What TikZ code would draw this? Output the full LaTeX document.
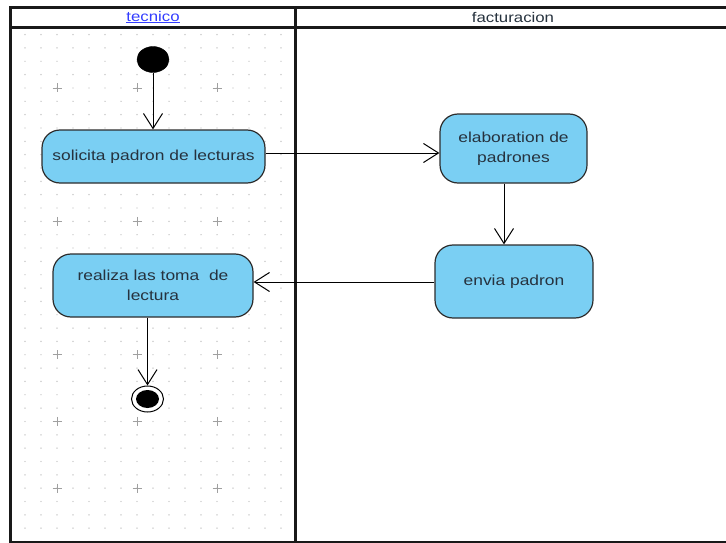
\documentclass[tikz,border=0pt]{standalone}
\usepackage{fontspec}
\usetikzlibrary{arrows.meta,shapes.geometric}
\newfontfamily\uifont[FakeStretch=1.2]{Liberation Sans}
\definecolor{actfill}{RGB}{122,207,243}
\definecolor{actline}{RGB}{45,45,45}
\definecolor{acttext}{RGB}{38,50,62}
\definecolor{linkblue}{RGB}{50,60,255}
\definecolor{framecol}{RGB}{25,25,25}
\definecolor{dotcol}{RGB}{185,185,185}
\definecolor{crosscol}{RGB}{160,160,160}
\tikzset{
  action/.style={draw=actline, fill=actfill, line width=1.2pt,
    rounded corners=18pt, align=center, text=acttext,
    font=\uifont\fontsize{14.5}{20}\selectfont, inner sep=0pt},
  flow/.style={draw=black, line width=1pt,
    -{Straight Barb[length=15pt,width=19pt,line width=1pt]}},
  lane/.style={draw=framecol, line width=2.6pt},
  head/.style={font=\uifont\fontsize{14}{16}\selectfont, inner sep=0pt}
}
\begin{document}
\begin{tikzpicture}[x=1pt,y=-1pt]
\useasboundingbox (0,0) rectangle (726,543);
\fill[white] (0,0) rectangle (726,543);

% dotted grid of the left swimlane
\foreach \i in {0,...,16}{
  \foreach \j in {0,...,38}{
    \fill[dotcol] (25+16*\i, 34.6+13.34*\j) circle (0.7pt);
  }
}
% grid crosses every fifth dot
\foreach \i in {57,137,217}{
  \foreach \j in {4,9,...,34}{
    \draw[crosscol, line width=0.7pt]
      (\i-4.5, 34.6+13.34*\j) -- (\i+4.5, 34.6+13.34*\j)
      (\i, 34.6+13.34*\j-4.5) -- (\i, 34.6+13.34*\j+4.5);
  }
}

% swimlane frame
\draw[lane] (740,7.5) -- (10.5,7.5) -- (10.5,542.2) -- (740,542.2);
\draw[lane] (10.5,27.5) -- (740,27.5);
\draw[lane] (295.5,7.5) -- (295.5,542.2);

% lane titles
\node[head, text=linkblue] (tecnico) at (153,17) {\underline{tecnico}};
\node[head, text=acttext] (facturacion) at (513,17) {facturacion};

% initial and final nodes
\node[draw=black, fill=black, ellipse, minimum width=32pt, minimum height=26pt,
  inner sep=0pt] (start) at (153,59.5) {};
\node[draw=black, line width=1pt, fill=white, ellipse, minimum width=32pt,
  minimum height=26pt, inner sep=0pt] (stop) at (147.5,399) {};
\fill[black] (stop.center) ellipse (11.5pt and 9pt);

% actions
\node[action, minimum width=223pt, minimum height=53pt] (solicita)
  at (153.5,156.5) {solicita padron de lecturas};
\node[action, minimum width=147pt, minimum height=69pt] (elab)
  at (513.5,148.5) {elaboration de\\padrones};
\node[action, minimum width=158pt, minimum height=73pt] (envia)
  at (514,281.5) {envia padron};
\node[action, minimum width=200pt, minimum height=63pt] (realiza)
  at (153,285.5) {realiza las toma\ \ de\\lectura};

% control flows
\draw[flow] (start.south) -- (start.south |- solicita.north);
\draw[flow] (solicita.east |- 0,153) -- (elab.west |- 0,153);
\draw[flow] (elab.south -| 504,0) -- (envia.north -| 504,0);
\draw[flow] (envia.west |- 0,282) -- (realiza.east |- 0,282);
\draw[flow] (stop.north |- realiza.south) -- (stop.north);
\end{tikzpicture}
\end{document}
